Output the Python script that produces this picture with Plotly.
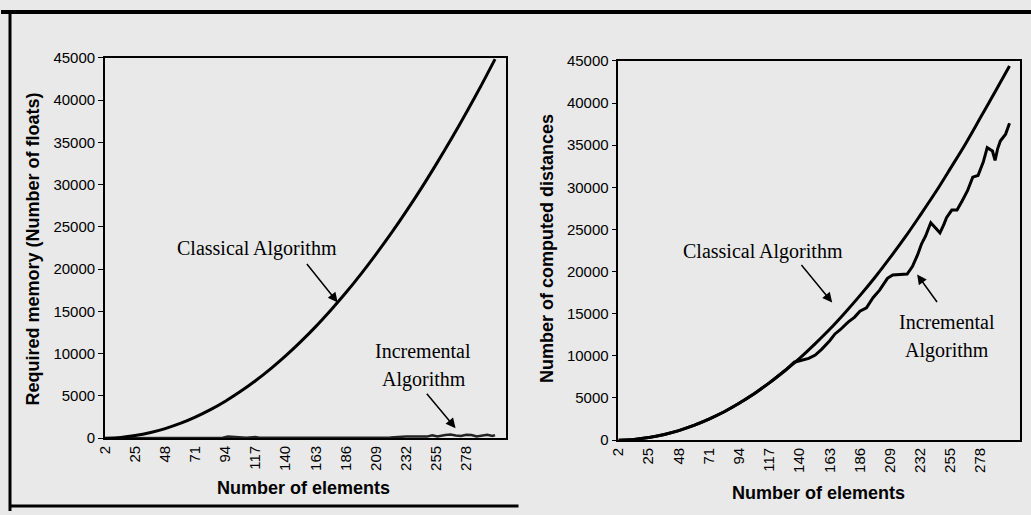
import plotly.graph_objects as go

W, H = 1031, 515
# The page draws the figure at an (8, 8) offset in a 1023x499 area,
# so reference pixel positions are mapped into that drawn area.
OFF = 8
DW, DH = W - OFF, H - 2 * OFF

# ---------------- data ----------------
tick_labels = [2, 25, 48, 71, 94, 117, 140, 163, 186, 209, 232, 255, 278]

classical_n = [2, 14, 25, 37, 48, 60, 71, 83, 94, 106, 117, 129, 140, 152, 163,
               175, 186, 198, 209, 221, 232, 244, 255, 267, 278, 290, 300]
classical_memory = [1, 90, 300, 670, 1130, 1770, 2490, 3400, 4370, 5570, 6790, 8260,
                    9730, 11480, 13200, 15230, 17200, 19500, 21740, 24310, 26800,
                    29650, 32400, 35510, 38500, 41900, 44850]
classical_distances = [1, 90, 300, 670, 1130, 1770, 2490, 3400, 4370, 5570, 6790, 8260,
                       9700, 11450, 13150, 15180, 17150, 19420, 21650, 24200, 26700,
                       29500, 32250, 35300, 38300, 41600, 44400]

incr_mem_n = [2, 20, 40, 60, 80, 92, 96, 100, 104, 110, 117, 120, 140, 160, 180, 200,
              220, 232, 240, 248, 252, 256, 262, 266, 270, 274, 278, 282, 286, 290,
              294, 298, 300]
incr_memory = [0, 10, 20, 30, 40, 60, 180, 150, 60, 50, 120, 60, 60, 70, 70, 80, 90,
               200, 220, 180, 350, 200, 380, 420, 300, 250, 400, 380, 200, 300, 400,
               250, 350]

incr_dist_n = [2, 14, 25, 37, 48, 60, 71, 83, 94, 106, 117, 129, 136, 142, 147, 152,
               157, 163, 167, 171, 177, 182, 186, 191, 196, 201, 207, 211, 217, 222,
               226, 230, 233, 236, 240, 243, 245, 247, 250, 252, 256, 260, 264, 268,
               272, 276, 280, 283, 287, 289, 291, 293, 297, 300]
incr_distances = [1, 90, 300, 670, 1130, 1770, 2490, 3400, 4370, 5570, 6790, 8260,
                  9250, 9500, 9700, 10100, 10800, 11800, 12600, 13100, 14000, 14600,
                  15300, 15700, 16900, 17800, 19200, 19600, 19700, 19700, 20600, 22000,
                  23300, 24200, 25800, 25300, 24900, 24600, 25600, 26400, 27300, 27300,
                  28400, 29600, 31200, 31400, 33000, 34700, 34300, 33200, 34600, 35500,
                  36300, 37600]

# ---------------- figure ----------------
BG = "#e9e9e9"
LINE = dict(color="black", width=3)

fig = go.Figure()
fig.add_trace(go.Scatter(x=incr_mem_n, y=incr_memory, mode="lines",
                         line=dict(color="#222222", width=2.5), xaxis="x", yaxis="y",
                         showlegend=False))
fig.add_trace(go.Scatter(x=classical_n, y=classical_memory, mode="lines",
                         line=LINE, line_shape="spline", xaxis="x", yaxis="y",
                         showlegend=False))
fig.add_trace(go.Scatter(x=classical_n, y=classical_distances, mode="lines",
                         line=LINE, line_shape="spline", xaxis="x2", yaxis="y2",
                         showlegend=False))
fig.add_trace(go.Scatter(x=incr_dist_n, y=incr_distances, mode="lines",
                         line=LINE, xaxis="x2", yaxis="y2", showlegend=False))


def px(x):
    return (x - OFF) / DW


def py(y):
    return 1 - (y - OFF) / DH


tick_font = dict(family="Liberation Sans, Arial", size=15, color="black")
xcommon = dict(range=[2, 308], tickmode="array", tickvals=tick_labels,
               ticktext=[str(t) for t in tick_labels], tickangle=-90,
               showgrid=False, zeroline=False, showline=True, linecolor="black",
               linewidth=1.5, mirror=True, ticks="", tickfont=tick_font)
ycommon = dict(range=[0, 45000], dtick=5000, tickformat="d", showgrid=False,
               zeroline=False, showline=True, linecolor="black", linewidth=1.5,
               mirror=True, ticks="outside", ticklen=5, tickcolor="black",
               tickwidth=1, tickfont=tick_font)

fig.update_layout(
    width=W, height=H, autosize=False,
    margin=dict(l=0, r=0, t=0, b=0),
    paper_bgcolor=BG, plot_bgcolor=BG,
    xaxis=dict(domain=[px(104), px(505)], anchor="y", **xcommon),
    yaxis=dict(domain=[py(438), py(57)], anchor="x", **ycommon),
    xaxis2=dict(domain=[px(618), px(1020)], anchor="y2", **xcommon),
    yaxis2=dict(domain=[py(440), py(60)], anchor="x2", **ycommon),
)

serif = dict(family="Liberation Serif, Times New Roman", size=20, color="black")
bold = dict(family="Liberation Sans, Arial", size=18, color="black")

anns = []


def text(x, y, t, font, angle=0):
    anns.append(dict(x=px(x), y=py(y), xref="paper", yref="paper", text=t,
                     showarrow=False, font=font, textangle=angle,
                     xanchor="center", yanchor="middle"))


def arrow(tail, head):
    anns.append(dict(x=px(head[0]), y=py(head[1]), xref="paper", yref="paper",
                     ax=tail[0] - head[0], ay=tail[1] - head[1], text="",
                     showarrow=True, arrowhead=2, arrowsize=1.3, arrowwidth=1.5,
                     arrowcolor="black"))


# axis titles
text(32, 248, "<b>Required memory (Number of floats)</b>", bold, -90)
text(303, 488, "<b>Number of elements</b>", bold)
text(546, 248, "<b>Number of computed distances</b>", bold, -90)
text(818, 493, "<b>Number of elements</b>", bold)

# labels and arrows
text(256, 248, "Classical Algorithm", serif)
text(422, 351, "Incremental", serif)
text(423, 379, "Algorithm", serif)
arrow((305, 262), (337, 302))
arrow((425, 392), (455, 428))

text(763, 251, "Classical Algorithm", serif)
text(947, 322, "Incremental", serif)
text(947, 350, "Algorithm", serif)
arrow((800, 263), (832, 302))
arrow((938, 303), (917, 274))

fig.update_layout(annotations=anns)

# outer frame lines of the scanned page
shapes = [
    dict(type="line", xref="paper", yref="paper", x0=px(0), x1=px(W + 20), y0=py(11), y1=py(11),
         line=dict(color="black", width=4)),
    dict(type="line", xref="paper", yref="paper", x0=px(9), x1=px(9), y0=py(10), y1=py(511),
         line=dict(color="black", width=3)),
    dict(type="line", xref="paper", yref="paper", x0=px(8), x1=px(518), y0=py(506), y1=py(506),
         line=dict(color="black", width=3)),
]
fig.update_layout(shapes=shapes)

fig.write_html(
    "out.html",
    config={"displayModeBar": False},
    post_script=(
        "document.documentElement.style.margin='0';"
        "document.body.style.margin='0';"
        "document.body.style.overflow='hidden';"
        "document.documentElement.style.background='" + BG + "';"
        "document.body.style.background='" + BG + "';"
    ),
)
